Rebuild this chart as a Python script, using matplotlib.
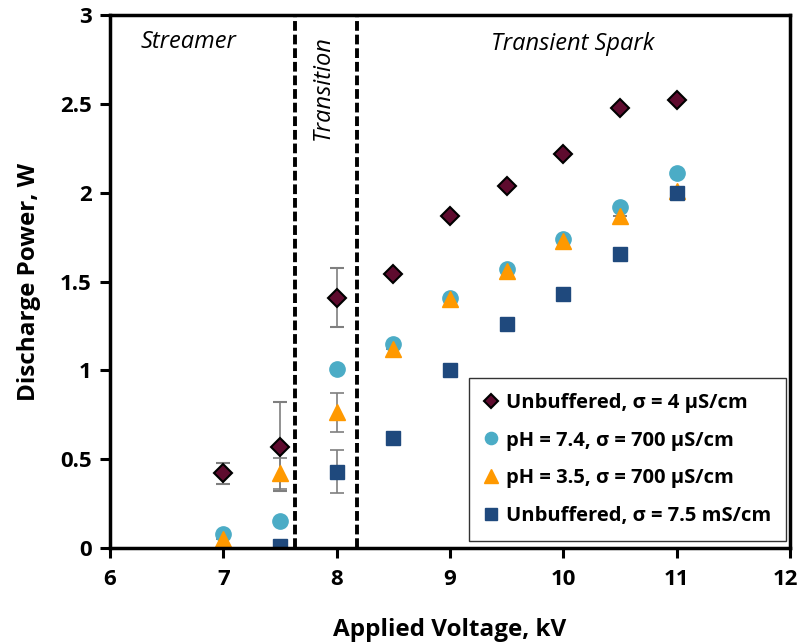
import matplotlib
matplotlib.use("Agg")
import matplotlib.pyplot as plt
from matplotlib.lines import Line2D
import matplotlib.transforms as mtransforms
import numpy as np

plt.rcParams['font.family'] = ['Open Sans', 'DejaVu Sans']

# data
voltage = [7, 7.5, 8, 8.5, 9, 9.5, 10, 10.5, 11]
p_unbuf_4 = [0.42, 0.57, 1.41, 1.54, 1.87, 2.04, 2.22, 2.48, 2.52]
p_unbuf_4_err = [0.06, 0.25, 0.165, 0, 0, 0, 0, 0, 0]
p_ph74 = [0.08, 0.15, 1.01, 1.15, 1.41, 1.57, 1.74, 1.92, 2.11]
p_ph35 = [0.05, 0.42, 0.765, 1.12, 1.40, 1.56, 1.73, 1.87, 2.01]
p_ph35_err = [0, 0.085, 0.11, 0, 0, 0, 0, 0, 0]
p_unbuf_75 = [np.nan, 0.01, 0.43, 0.62, 1.00, 1.26, 1.43, 1.655, 2.00]
p_unbuf_75_err = [0, 0, 0.12, 0, 0, 0, 0, 0, 0]

labels = ["Unbuffered, σ = 4 µS/cm", "pH = 7.4, σ = 700 µS/cm",
          "pH = 3.5, σ = 700 µS/cm", "Unbuffered, σ = 7.5 mS/cm"]
regime_bounds = [7.63, 8.18]

fig = plt.figure(figsize=(8.01, 6.42), dpi=100)
ax = fig.add_axes([0.1373, 0.1464, 0.849, 0.830])

err_kw = dict(ecolor='#7f7f7f', elinewidth=1.2, capsize=5, capthick=1.2, linestyle='none')

styles = [
    dict(marker='D', ms=9.5, mfc='#5e0b2e', mec='black', mew=1.5),
    dict(marker='o', ms=11, mfc='#4bacc6', mec='#4bacc6'),
    dict(marker='^', ms=12, mfc='#ff9900', mec='#ff9900'),
    dict(marker='s', ms=10.5, mfc='#1f497d', mec='#1f497d'),
]
series = [p_unbuf_4, p_ph74, p_ph35, p_unbuf_75]
errs = [p_unbuf_4_err, None, p_ph35_err, p_unbuf_75_err]

for vals, err, st in zip(series, errs, styles):
    ax.errorbar(voltage, vals, yerr=err, **st, **err_kw)

for xb in regime_bounds:
    ax.axvline(xb, color='black', lw=2.8, ls=(0, (2.5, 1)), zorder=1)

ax.text(6.69, 2.85, 'Streamer', style='italic', fontsize=17, ha='center', va='center')
ax.text(7.88, 2.59, 'Transition', style='italic', fontsize=17, ha='center',
        va='center', rotation=90)
ax.text(10.08, 2.84, 'Transient Spark', style='italic', fontsize=17, ha='center',
        va='center')

ax.set_xlim(6, 12)
ax.set_ylim(0, 3)
ax.set_xticks(range(6, 13))
ax.set_yticks([0, 0.5, 1, 1.5, 2, 2.5, 3])
ax.set_yticklabels(['0', '0.5', '1', '1.5', '2', '2.5', '3'])
ax.tick_params(axis='both', direction='out', length=7, width=2.2, labelsize=16)
ax.tick_params(axis='x', pad=8)
ax.tick_params(axis='y', pad=6)
for lab in ax.get_xticklabels() + ax.get_yticklabels():
    lab.set_fontweight('bold')
# keep the last x label inside the figure
last = ax.get_xticklabels()[-1]
last.set_transform(last.get_transform() +
                   mtransforms.ScaledTranslation(-5 / 100, 0, fig.dpi_scale_trans))
for sp in ax.spines.values():
    sp.set_linewidth(2.5)

ax.set_xlabel('Applied Voltage, kV', fontsize=17.5, fontweight='bold', labelpad=20)
ax.set_ylabel('Discharge Power, W', fontsize=17.5, fontweight='bold', labelpad=14)

handles = [Line2D([], [], ls='none', **{**st, 'ms': st['ms'] * 0.8}) for st in styles]
leg = ax.legend(handles, labels, loc='lower right', bbox_to_anchor=(0.9945, 0.013),
                frameon=True, fancybox=False, edgecolor='black',
                prop={'weight': 'bold', 'size': 14.5},
                handlelength=0.7, handletextpad=0.4, labelspacing=0.88,
                borderpad=0.75, borderaxespad=0, numpoints=1)
leg.get_frame().set_linewidth(1.0)

fig.savefig('out.png', dpi=100)
